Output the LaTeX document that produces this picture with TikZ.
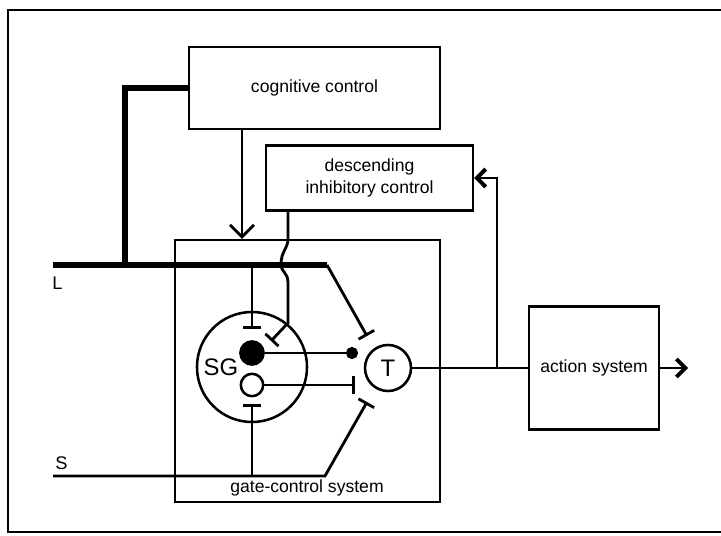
\documentclass[tikz,border=0pt]{standalone}
\usepackage{fontspec}
\setmainfont{Liberation Sans}
\usetikzlibrary{arrows.meta}

\begin{document}
\begin{tikzpicture}[
    x=0.025cm, y=-0.025cm,
    cornice/.style={draw=black, line width=1.5pt},
    blocco/.style={rectangle, draw=black, line width=1.6pt, inner sep=0pt, align=center, font=\fontsize{12.5}{15}\selectfont},
    fibra/.style={draw=black, line width=2pt},
    grossa/.style={draw=black, line width=4pt},
    cella/.style={circle, draw=black, line width=1.8pt, inner sep=0pt},
    inib/.style={-{Bar[width=0.45cm, line width=2pt]}},
    ecc/.style={-{Circle[length=0.3cm]}},
    freccia/.style={-{Straight Barb[length=0.22cm, width=0.45cm, line width=2.8pt]}},
    sigla/.style={font=\fontsize{13}{15}\selectfont, inner sep=0pt}
]

    % Cornice esterna
    \useasboundingbox (0,0) rectangle (721,536);
    \clip (0,0) rectangle (721,536);
    \draw[cornice] (8,10) rectangle (740,532);

    % 1. Blocchi
    \node[blocco, minimum width=6.275cm, minimum height=2.05cm] (cog)  at (314.5,88)  {cognitive control};
    \node[blocco, minimum width=5.175cm, minimum height=1.625cm] (desc) at (369.5,178) {descending\\inhibitory control};
    \node[blocco, minimum width=6.625cm, minimum height=6.55cm] (gate) at (307.5,371) {};
    \node[blocco, minimum width=3.25cm, minimum height=3.075cm] (act)  at (594,368)   {action system};
    \node[font=\fontsize{12.5}{15}\selectfont, inner sep=0pt] (gatelbl) at (307,488) {gate-control system};

    % 2. Cellule
    \node[cella, minimum size=2.75cm] (SG) at (252,367) {};
    \node[font=\fontsize{17}{19}\selectfont, inner sep=0pt] (SGlbl) at (221,367) {SG};
    \node[cella, fill=black, minimum size=0.58cm] (piena) at (252,353) {};
    \node[cella, minimum size=0.56cm] (vuota) at (252,385) {};
    \node[cella, minimum size=1.15cm, font=\fontsize{17}{19}\selectfont] (T) at (388,368) {T};

    % 3. Etichette ingressi
    \node[sigla, anchor=west] (Llbl) at (52,283) {L};
    \node[sigla, anchor=west] (Slbl) at (55,463) {S};

    % Punti liberi
    \coordinate (Linizio) at (53,265);
    \coordinate (Lfine)   at (327,265);
    \coordinate (Lnodo)   at (125,265);
    \coordinate (Lsg)     at (252,265);
    \coordinate (SGalto)  at (252,329);
    \coordinate (Tsopra)  at (367,336);
    \coordinate (Sinizio) at (53,476);
    \coordinate (Sgomito) at (325,476);
    \coordinate (Ssg)     at (252,476);
    \coordinate (SGbasso) at (252,404);
    \coordinate (Tsotto)  at (367,402);
    \coordinate (cogx)    at (242,0);
    \coordinate (descx)   at (288,0);
    \coordinate (Tpunto)  at (358,353);
    \coordinate (Tbarra)  at (355,385);
    \coordinate (nodo)    at (497,368);
    \coordinate (uscita)  at (688,368);

    % 4. Fibre grosse (L)
    \draw[grossa] (Linizio) -- (Lfine);
    \draw[grossa] (cog.west) -| (Lnodo);
    \draw[fibra, inib] (Lfine) -- (Tsopra);
    \draw[fibra, inib] (Lsg) -- (SGalto);

    % 5. Fibre sottili (S)
    \draw[fibra, inib] (Sinizio) -- (Sgomito) -- (Tsotto);
    \draw[fibra, inib] (Ssg) -- (SGbasso);

    % 6. Controlli discendenti
    \draw[fibra, -{Straight Barb[length=0.3cm, width=0.6cm, line width=2pt]}] (cog.south -| cogx) -- (gate.north -| cogx);
    \draw[fibra, inib] (desc.south -| descx) -- (288,238)
        .. controls (288,250) and (281,250) .. (281,265)
        .. controls (281,272) and (288,272) .. (288,283)
        -- (288,323) -- (271,341);

    % 7. Cellule SG verso T
    \draw[fibra, ecc] (piena.east) -- (Tpunto);
    \draw[fibra, inib] (vuota.east) -- (Tbarra);

    % 8. Uscita di T
    \draw[fibra] (T.east) -- (act.west);
    \draw[fibra, freccia] (nodo) |- (desc.east);
    \draw[fibra, freccia] (act.east) -- (uscita);

\end{tikzpicture}
\end{document}
